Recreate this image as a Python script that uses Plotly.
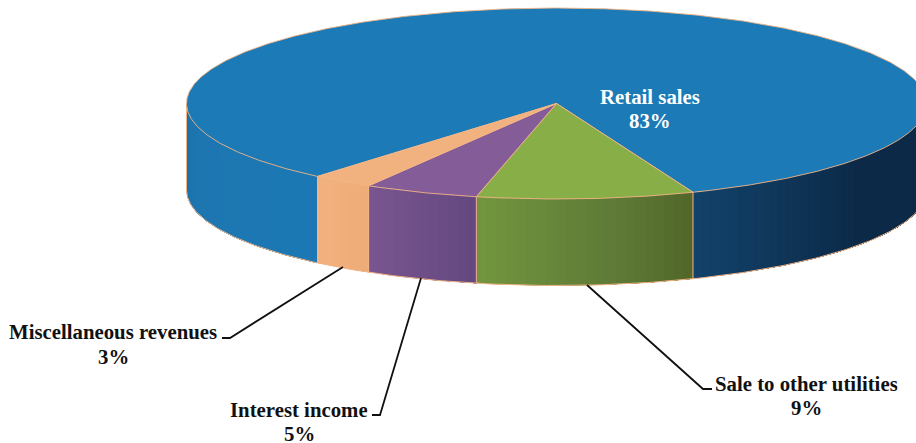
import numpy as np
import plotly.graph_objects as go

# Data
categories = ["Retail sales", "Sale to other utilities", "Interest income", "Miscellaneous revenues"]
values = [82.81, 9.49, 5.0, 2.7]

# Styles
top_colors = ["#1C7AB6", "#87AE47", "#845C97", "#F2B27F"]
side_stops = [
    [(-90, "#1C70A8"), (-75, "#1D76B0"), (-40, "#1C78B4"), (21.6, "#12426A"), (38, "#0F3557"), (55, "#0C2A47"), (90, "#0C2A47")],
    [(-13, "#73963F"), (8, "#5F7C37"), (22, "#52652A")],
    [(-31, "#7A5690"), (-13, "#654880")],
    [(-41, "#F2B27F"), (-30, "#EEAC77")],
]
edge = "#F3B486"
cx, cy, rx, ry, depth = 556.5, 103.5, 370.0, 95.5, 86.5
start_deg = 21.65
name_xy = [(650, 96), (806, 383), (299, 409), (113, 331)]
pct_xy = [(650, 120), (806, 407), (299, 433), (113, 356)]
label_colors = ["#FFFFFF", "#111111", "#111111", "#111111"]
leaders = [None,
           ([587, 703, 712], [285, 389, 389]),
           ([421, 380, 372], [278, 415, 415]),
           ([343, 230, 222], [267, 338, 338])]


def px(theta):
    return cx + rx * np.sin(np.radians(theta))


def py(theta, drop=0.0):
    return cy + ry * np.cos(np.radians(theta)) + drop


def hex_rgb(h):
    return np.array([int(h[i:i + 2], 16) for i in (1, 3, 5)], dtype=float)


def stop_color(stops, theta):
    xs = [s[0] for s in stops]
    cs = np.array([hex_rgb(s[1]) for s in stops])
    rgb = [np.interp(theta, xs, cs[:, i]) for i in range(3)]
    return "rgb(%d,%d,%d)" % tuple(int(round(v)) for v in rgb)


fig = go.Figure()
spans = [v / sum(values) * 360 for v in values]

# slice boundaries, running clockwise on screen (theta decreasing) from the retail/sale seam
ranges = []
a = start_deg
for s in spans[1:]:
    ranges.append((a, a - s))
    a -= s
ranges = [(a, a - spans[0])] + ranges  # retail first

# sides: each strip runs to the slice's far end and the next one paints over it, so no seams show
for idx, (a0, a1) in enumerate(ranges):
    if idx == 0:
        pieces = [(a0, -90), (90, a1 + 360)]
    else:
        pieces = [(a0, a1)]
    for p0, p1 in pieces:
        hi, lo = max(p0, p1), min(p0, p1)
        edges = np.linspace(lo, hi, max(2, int((hi - lo) / 1.5) + 1))
        for t0, t1 in zip(edges[:-1], edges[1:]):
            th = np.linspace(t0, hi, max(4, int((hi - t0) * 2)))
            col = stop_color(side_stops[idx], (t0 + t1) / 2)
            xs = np.concatenate([px(th), px(th[::-1])])
            ys = np.concatenate([py(th), py(th[::-1], depth)])
            fig.add_trace(go.Scatter(x=xs, y=ys, mode="lines", fill="toself", fillcolor=col,
                                     line=dict(width=0), hoverinfo="skip", showlegend=False))

# bottom rim
th = np.linspace(-90, 90, 241)
fig.add_trace(go.Scatter(x=px(th), y=py(th, depth), mode="lines", line=dict(color=edge, width=1),
                         hoverinfo="skip", showlegend=False))
# left vertical rim
fig.add_trace(go.Scatter(x=[px(-90), px(-90)], y=[py(-90), py(-90, depth)], mode="lines",
                         line=dict(color=edge, width=1), hoverinfo="skip", showlegend=False))

# seams on the side wall
for a0 in [start_deg, ranges[1][1], ranges[2][1], ranges[3][1]]:
    fig.add_trace(go.Scatter(x=[px(a0), px(a0)], y=[py(a0), py(a0, depth)], mode="lines",
                             line=dict(color=edge, width=1), hoverinfo="skip", showlegend=False))

# top slices
for idx, (a0, a1) in enumerate(ranges):
    th = np.linspace(a0, a1, max(4, int(abs(a1 - a0) * 2)))
    xs = np.concatenate([[cx], px(th), [cx]])
    ys = np.concatenate([[cy], py(th), [cy]])
    fig.add_trace(go.Scatter(x=xs, y=ys, mode="lines", fill="toself", fillcolor=top_colors[idx],
                             line=dict(color=edge, width=0.9), hoverinfo="skip", showlegend=False))

# leader lines
for ld in leaders:
    if ld:
        fig.add_trace(go.Scatter(x=ld[0], y=ld[1], mode="lines", line=dict(color="#111111", width=1.8),
                                 hoverinfo="skip", showlegend=False))

# labels
for name, v, (nx, ny), (vx, vy), lc in zip(categories, values, name_xy, pct_xy, label_colors):
    for text, tx, ty in ((name, nx, ny), (f"{round(v)}%", vx, vy)):
        fig.add_annotation(x=tx, y=ty, xref="x", yref="y", text=f"<b>{text}</b>", showarrow=False,
                           font=dict(family="Liberation Serif", size=20.8, color=lc), height=20,
                           xanchor="center", yanchor="middle")

fig.update_layout(width=916, height=443, margin=dict(l=0, r=0, t=0, b=0),
                  paper_bgcolor="white", plot_bgcolor="white", showlegend=False,
                  xaxis=dict(range=[0, 916], visible=False, fixedrange=True),
                  yaxis=dict(range=[443, 0], visible=False, fixedrange=True))
fig.write_html("out.html", config={"displayModeBar": False},
               post_script="document.body.style.margin='0';document.body.style.overflow='hidden';")
